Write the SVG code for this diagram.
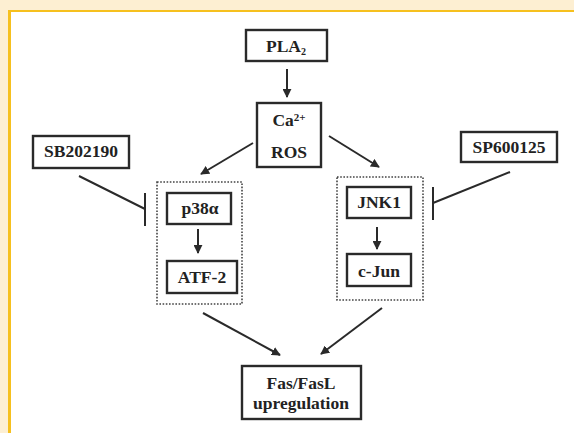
<svg xmlns="http://www.w3.org/2000/svg" width="574" height="433" viewBox="0 0 574 433">
<defs>
<style>
.box{fill:#fff;stroke:#2a2a2a;stroke-width:2.4}
.grp{fill:none;stroke:#444;stroke-width:1.6;stroke-dasharray:1.6 1.6}
.t{font-family:"Liberation Serif","Times New Roman",serif;font-weight:bold;font-size:17.5px;fill:#222;text-anchor:middle}
.ln{stroke:#2a2a2a;stroke-width:2;fill:none}
.ar{stroke:#2a2a2a;stroke-width:2;fill:none;marker-end:url(#ah)}
</style>
<marker id="ah" viewBox="0 0 10 10" refX="9" refY="5" markerWidth="4.5" markerHeight="4.5" orient="auto" markerUnits="strokeWidth">
<path d="M0,0 L10,5 L0,10 z" fill="#2a2a2a"/>
</marker>
</defs>
<rect x="0" y="0" width="574" height="433" fill="#fdefd2"/>
<rect x="8" y="10" width="566" height="423" fill="#f6c01e"/>
<rect x="11" y="12" width="563" height="421" fill="#fff"/>

<g id="group-p38">
<rect class="grp" x="157" y="182" width="85" height="122"/>
</g>
<g id="group-jnk">
<rect class="grp" x="337" y="177" width="86" height="123"/>
</g>

<g id="connectors">
<line class="ar" x1="287" y1="69" x2="287" y2="97"/>
<line class="ar" x1="253" y1="143" x2="201" y2="174"/>
<line class="ar" x1="329" y1="136" x2="379" y2="167"/>
<line class="ar" x1="198" y1="229" x2="198" y2="253"/>
<line class="ar" x1="377" y1="227" x2="377" y2="249"/>
<line class="ar" x1="203" y1="313" x2="280" y2="355"/>
<line class="ar" x1="382" y1="308" x2="321" y2="354"/>
<line class="ln" x1="79" y1="176" x2="145" y2="209"/>
<line class="ln" x1="145" y1="193" x2="145" y2="226"/>
<line class="ln" x1="510" y1="172" x2="433" y2="203"/>
<line class="ln" x1="433" y1="187" x2="433" y2="220"/>
</g>

<g id="pla2">
<rect class="box" x="246" y="30" width="81" height="31"/>
<text class="t" x="286" y="52">PLA<tspan font-size="10" dy="3">2</tspan></text>
</g>
<g id="ca-ros">
<rect class="box" x="257" y="103" width="64" height="64"/>
<text class="t" x="289" y="126">Ca<tspan font-size="11" dy="-5">2+</tspan></text>
<text class="t" x="289" y="158">ROS</text>
</g>
<g id="sb202190">
<rect class="box" x="33" y="136" width="96" height="32"/>
<text class="t" x="81" y="157">SB202190</text>
</g>
<g id="sp600125">
<rect class="box" x="461" y="132" width="96" height="30"/>
<text class="t" x="509" y="153">SP600125</text>
</g>
<g id="p38a">
<rect class="box" x="167" y="193" width="64" height="31"/>
<text class="t" x="200" y="214">p38α</text>
</g>
<g id="atf2">
<rect class="box" x="167" y="261" width="70" height="32"/>
<text class="t" x="202" y="283">ATF-2</text>
</g>
<g id="jnk1">
<rect class="box" x="347" y="187" width="64" height="31"/>
<text class="t" x="379" y="208">JNK1</text>
</g>
<g id="cjun">
<rect class="box" x="347" y="254" width="64" height="32"/>
<text class="t" x="379" y="277">c-Jun</text>
</g>
<g id="fas">
<rect class="box" x="242" y="366" width="119" height="53"/>
<text class="t" x="301" y="389">Fas/FasL</text>
<text class="t" x="301" y="409">upregulation</text>
</g>
</svg>
